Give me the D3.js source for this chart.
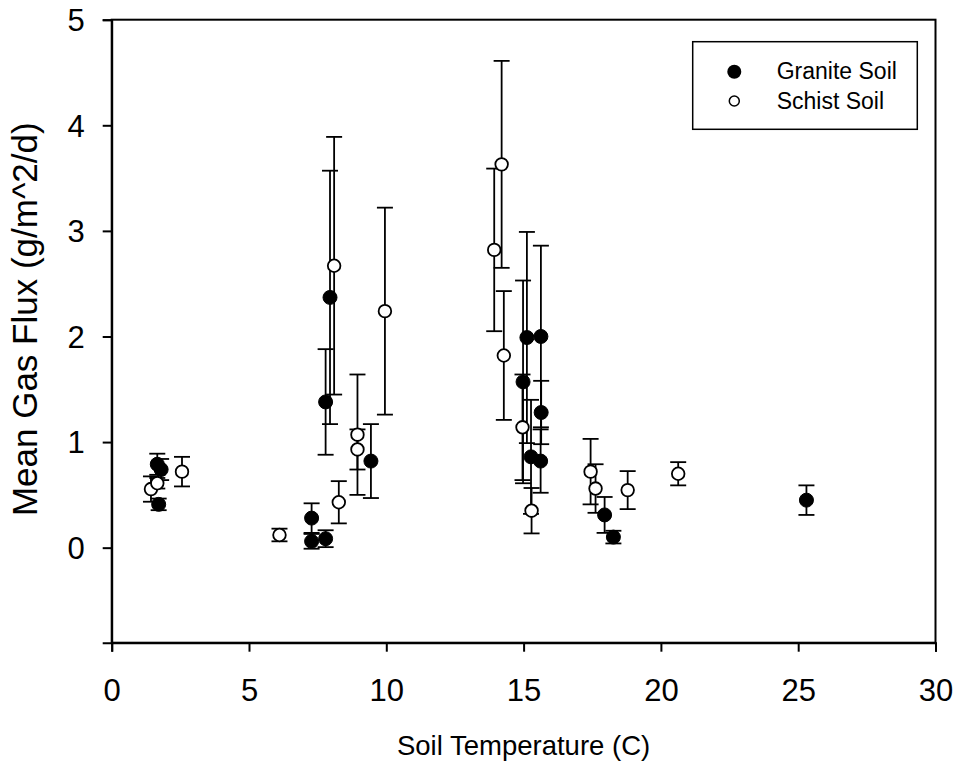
<!DOCTYPE html>
<html>
<head>
<meta charset="utf-8">
<script src="https://cdn.jsdelivr.net/npm/d3@7/dist/d3.min.js"></script>
<style>
  html, body { margin: 0; padding: 0; background: #fff; }
  svg { display: block; }
  text { font-family: "Liberation Sans", Arial, sans-serif; fill: #000; }
</style>
</head>
<body>
<svg id="chart" width="961" height="761"></svg>
<script>
// Granite Soil (filled): temperature, mean flux, error
const graniteX   = [1.66, 1.80, 1.71, 7.28, 7.28, 7.79, 7.79, 7.95, 9.44, 14.98, 15.12, 15.63, 15.64, 15.27, 15.62, 17.95, 18.27, 25.30];
const graniteY   = [0.79, 0.74, 0.41, 0.28, 0.06, 0.085, 1.38, 2.37, 0.82, 1.57, 1.99, 2.00, 1.28, 0.86, 0.82, 0.31, 0.10, 0.45];
const graniteErr = [0.10, 0.10, 0.055, 0.14, 0.07, 0.08, 0.50, 1.20, 0.35, 0.96, 1.00, 0.86, 0.30, 0.54, 0.30, 0.17, 0.06, 0.14];

// Schist Soil (open)
const schistX   = [1.43, 1.66, 2.56, 6.11, 8.27, 8.10, 8.95, 8.95, 9.95, 13.93, 14.20, 14.28, 14.96, 15.29, 17.44, 17.62, 18.79, 20.63];
const schistY   = [0.555, 0.61, 0.72, 0.12, 0.43, 2.67, 1.07, 0.93, 2.24, 2.82, 3.63, 1.82, 1.14, 0.35, 0.72, 0.56, 0.545, 0.70];
const schistErr = [0.12, 0.05, 0.14, 0.06, 0.20, 1.22, 0.57, 0.19, 0.98, 0.77, 0.98, 0.61, 0.50, 0.215, 0.31, 0.23, 0.18, 0.11];

const xTicks = [0, 5, 10, 15, 20, 25, 30];
const yTicks = [0, 1, 2, 3, 4, 5];
const xDomain = [0, 30];
const yDomain = [-0.9, 5];

const legendLabels = ["Granite Soil", "Schist Soil"];
const xTitle = "Soil Temperature (C)";
const yTitle = "Mean Gas Flux (g/m^2/d)";

const svg = d3.select("#chart");
const L = 111.7, R = 935.5, T = 19.7, B = 642.7;

const x = d3.scaleLinear().domain(xDomain).range([L, R]);
const y = d3.scaleLinear().domain(yDomain).range([B, T]);

// frame
svg.append("rect")
  .attr("x", L).attr("y", T).attr("width", R - L).attr("height", B - T)
  .attr("fill", "none").attr("stroke", "#000").attr("stroke-width", 2);

// axes
const xAxis = svg.append("g").attr("transform", `translate(0,${B})`)
  .call(d3.axisBottom(x).tickValues(xTicks).tickSize(9).tickFormat(d3.format("d")));
const yAxis = svg.append("g").attr("transform", `translate(${L},0)`)
  .call(d3.axisLeft(y).tickValues(yTicks).tickSize(9).tickFormat(d3.format("d")));

[xAxis, yAxis].forEach(g => {
  g.select(".domain").attr("stroke", "#000").attr("stroke-width", 2);
  g.selectAll(".tick line").attr("stroke", "#000").attr("stroke-width", 2);
  g.selectAll(".tick text").attr("font-family", "Liberation Sans, Arial, sans-serif").attr("fill", "#000");
});
xAxis.selectAll(".tick text").attr("font-size", 31).attr("y", 58).attr("dy", 0);
yAxis.selectAll(".tick text").attr("font-size", 31).attr("x", -27).attr("dy", "0.35em");

// titles
svg.append("text")
  .attr("x", (L + R) / 2).attr("y", 755)
  .attr("text-anchor", "middle").attr("font-size", 27.5)
  .text(xTitle);
svg.append("text")
  .attr("transform", `translate(37,${(T + B) / 2 - 12}) rotate(-90)`)
  .attr("text-anchor", "middle").attr("font-size", 35)
  .text(yTitle);

const granite = graniteX.map((d, i) => ({ x: d, y: graniteY[i], e: graniteErr[i] }));
const schist = schistX.map((d, i) => ({ x: d, y: schistY[i], e: schistErr[i] }));

const capHalf = 8;
function drawErrors(data) {
  const g = svg.append("g").attr("stroke", "#000").attr("stroke-width", 1.8).attr("fill", "none");
  data.forEach(d => {
    const cx = x(d.x), y1 = y(d.y + d.e), y0 = y(d.y - d.e);
    g.append("line").attr("x1", cx).attr("x2", cx).attr("y1", y1).attr("y2", y0);
    g.append("line").attr("x1", cx - capHalf).attr("x2", cx + capHalf).attr("y1", y1).attr("y2", y1);
    g.append("line").attr("x1", cx - capHalf).attr("x2", cx + capHalf).attr("y1", y0).attr("y2", y0);
  });
}
drawErrors(granite);
drawErrors(schist);

svg.append("g").selectAll("circle").data(schist).join("circle")
  .attr("cx", d => x(d.x)).attr("cy", d => y(d.y)).attr("r", 6.3)
  .attr("fill", "#fff").attr("stroke", "#000").attr("stroke-width", 1.8);
svg.append("g").selectAll("circle").data(granite).join("circle")
  .attr("cx", d => x(d.x)).attr("cy", d => y(d.y)).attr("r", 7)
  .attr("fill", "#000").attr("stroke", "#000").attr("stroke-width", 1);

// legend
const lg = svg.append("g");
lg.append("rect").attr("x", 692.7).attr("y", 41.7).attr("width", 224.6).attr("height", 87.6)
  .attr("fill", "#fff").attr("stroke", "#000").attr("stroke-width", 1.5);
lg.append("circle").attr("cx", 734.3).attr("cy", 71.7).attr("r", 7).attr("fill", "#000");
lg.append("circle").attr("cx", 734.3).attr("cy", 101).attr("r", 5).attr("fill", "#fff").attr("stroke", "#000").attr("stroke-width", 1.5);
lg.append("text").attr("x", 776.7).attr("y", 79).attr("font-size", 23).text(legendLabels[0]);
lg.append("text").attr("x", 776.7).attr("y", 108.5).attr("font-size", 23).text(legendLabels[1]);
</script>
</body>
</html>
